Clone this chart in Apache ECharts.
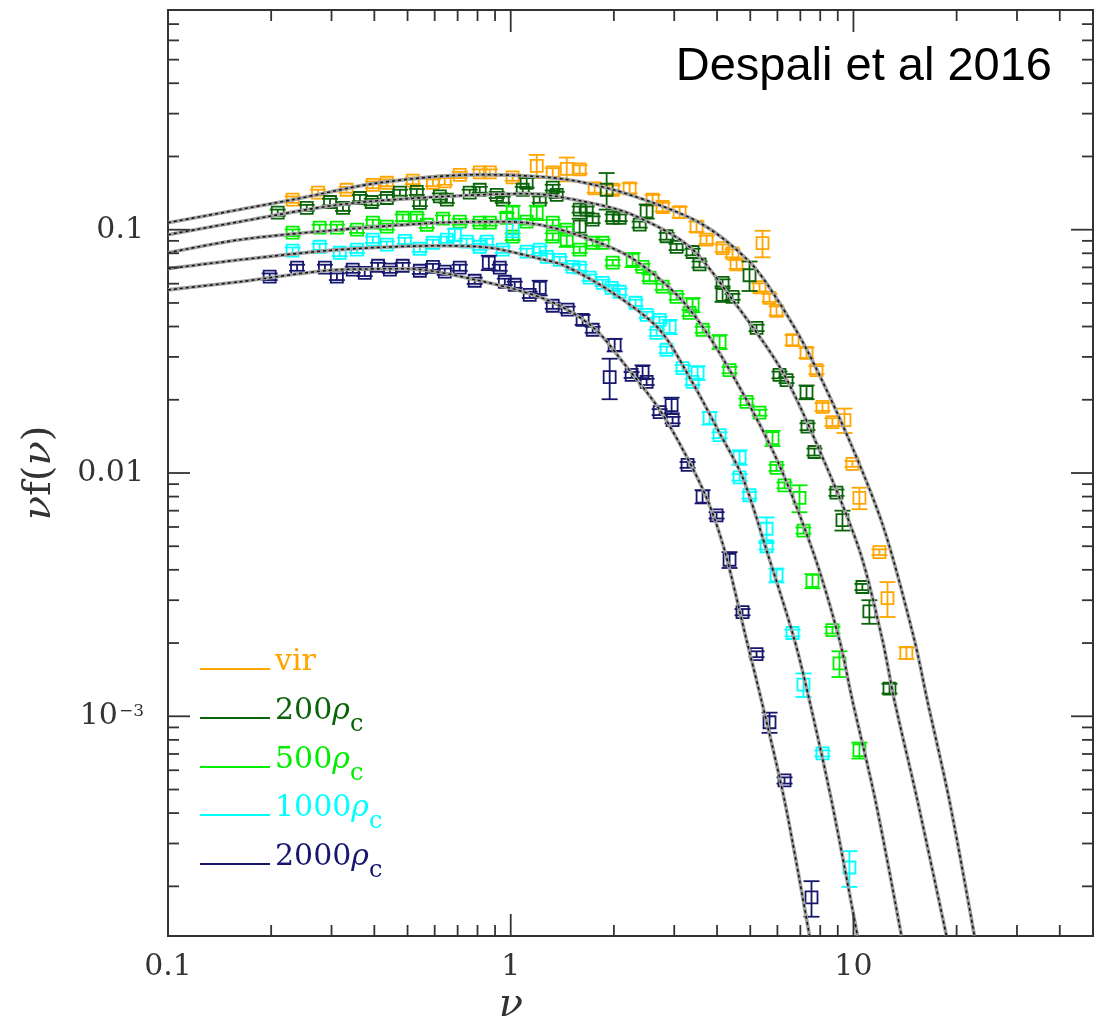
<!DOCTYPE html>
<html><head><meta charset="utf-8">
<script src="https://cdn.jsdelivr.net/npm/echarts@6/dist/echarts.min.js"></script>
<style>html,body{margin:0;padding:0;background:#fff}#c{width:1100px;height:1022px}</style>
</head><body><div id="c"></div>
<script>
// ---- data: [nu, nu f(nu), error] ----
const seriesNames = ['vir', '200ρc', '500ρc', '1000ρc', '2000ρc'];
const seriesColors = ['#FFA500', '#0a640a', '#00EE00', '#00FFFF', '#17176e'];

const virData = [[0.231,0.133,0.004],[0.274,0.142,0.004],[0.332,0.146,0.004],[0.396,0.153,0.005],[0.435,0.156,0.005],[0.518,0.159,0.005],[0.593,0.156,0.005],[0.642,0.158,0.005],[0.710,0.168,0.005],[0.812,0.172,0.005],[0.869,0.172,0.005],[1.013,0.164,0.005],[1.191,0.183,0.02],[1.326,0.172,0.007],[1.457,0.178,0.02],[1.589,0.177,0.007],[1.758,0.148,0.006],[1.984,0.146,0.006],[2.223,0.148,0.007],[2.594,0.133,0.006],[2.774,0.124,0.005],[3.110,0.118,0.006],[3.485,0.103,0.005],[3.727,0.091,0.0035],[4.151,0.084,0.003],[4.438,0.080,0.003],[4.560,0.072,0.003],[5.428,0.088,0.011],[5.320,0.058,0.0022],[5.690,0.0525,0.002],[5.965,0.0464,0.002],[6.641,0.0352,0.0017],[7.295,0.0312,0.0015],[7.801,0.0265,0.001],[8.122,0.0187,0.0007],[8.686,0.0162,0.0006],[9.415,0.0165,0.0019],[9.933,0.0109,0.0003],[10.41,0.0079,0.0008],[11.91,0.00473,0.00013],[12.57,0.00306,0.0005],[14.27,0.00182,0.0001]];

const rho200Data = [[0.209,0.1175,0.0035],[0.254,0.123,0.0035],[0.297,0.130,0.004],[0.324,0.123,0.0035],[0.363,0.135,0.004],[0.393,0.130,0.004],[0.435,0.135,0.004],[0.475,0.142,0.004],[0.532,0.143,0.004],[0.543,0.129,0.004],[0.621,0.137,0.004],[0.651,0.133,0.004],[0.759,0.142,0.004],[0.812,0.146,0.004],[0.910,0.139,0.004],[0.948,0.133,0.004],[1.084,0.146,0.004],[1.113,0.156,0.007],[1.215,0.133,0.004],[1.326,0.149,0.004],[1.362,0.139,0.004],[1.589,0.121,0.0035],[1.589,0.103,0.008],[1.666,0.121,0.0035],[1.734,0.110,0.0035],[1.905,0.146,0.025],[1.984,0.112,0.0035],[2.079,0.112,0.0035],[2.378,0.105,0.003],[2.492,0.119,0.008],[2.850,0.094,0.003],[3.048,0.085,0.0025],[3.393,0.081,0.0025],[3.556,0.072,0.002],[4.151,0.0605,0.002],[4.151,0.054,0.0035],[4.438,0.053,0.0015],[4.975,0.065,0.009],[5.215,0.0395,0.0012],[6.085,0.0253,0.0008],[6.379,0.0241,0.0007],[7.295,0.0215,0.0014],[7.344,0.0155,0.0005],[7.697,0.0122,0.0004],[8.921,0.0083,0.00025],[9.288,0.0064,0.0006],[10.62,0.0034,0.0001],[11.13,0.0027,0.0003],[12.74,0.0013,0.00006]];

const rho500Data = [[0.231,0.0972,0.003],[0.277,0.1019,0.003],[0.311,0.1019,0.003],[0.356,0.100,0.003],[0.396,0.1069,0.003],[0.435,0.1029,0.003],[0.484,0.112,0.0035],[0.532,0.112,0.0035],[0.569,0.1048,0.003],[0.634,0.111,0.0035],[0.710,0.1079,0.003],[0.812,0.1069,0.003],[0.869,0.1069,0.003],[0.973,0.112,0.005],[1.013,0.1175,0.008],[1.013,0.0936,0.003],[1.113,0.1079,0.003],[1.191,0.1175,0.008],[1.326,0.1069,0.003],[1.326,0.0936,0.003],[1.457,0.091,0.006],[1.457,0.100,0.003],[1.589,0.0828,0.0025],[1.734,0.0884,0.0025],[1.854,0.0884,0.0025],[1.984,0.0732,0.002],[2.268,0.0752,0.005],[2.425,0.0704,0.002],[2.542,0.0635,0.002],[2.774,0.0583,0.0017],[3.048,0.053,0.0015],[3.393,0.0491,0.0033],[3.325,0.0455,0.0013],[3.629,0.0388,0.0011],[4.068,0.0346,0.0023],[4.350,0.0265,0.0008],[4.875,0.0196,0.0006],[5.320,0.0177,0.0005],[5.806,0.0139,0.001],[5.965,0.0105,0.0003],[6.293,0.0089,0.00025],[6.96,0.0079,0.001],[7.148,0.0058,0.00017],[7.594,0.0036,0.00024],[8.686,0.00226,0.00007],[9.104,0.00165,0.0002],[10.41,0.000725,0.000055]];

const rho1000Data = [[0.231,0.082,0.0025],[0.277,0.0851,0.0025],[0.317,0.0804,0.0025],[0.356,0.0828,0.0025],[0.396,0.091,0.0027],[0.435,0.0868,0.0026],[0.491,0.090,0.0027],[0.543,0.0835,0.0025],[0.593,0.0884,0.0026],[0.651,0.091,0.0027],[0.687,0.0954,0.0055],[0.744,0.0893,0.0026],[0.812,0.0851,0.0025],[0.851,0.0893,0.0026],[0.948,0.0828,0.0025],[1.013,0.101,0.008],[1.113,0.0812,0.0024],[1.215,0.0828,0.0025],[1.274,0.0774,0.0023],[1.390,0.0752,0.0022],[1.516,0.0704,0.002],[1.589,0.0698,0.002],[1.700,0.0635,0.0019],[1.854,0.0605,0.0018],[1.970,0.0577,0.0017],[2.079,0.0556,0.0016],[2.314,0.0501,0.0015],[2.492,0.0447,0.0013],[2.665,0.0377,0.0011],[2.719,0.0426,0.0013],[2.908,0.0399,0.0027],[2.850,0.0321,0.001],[3.173,0.027,0.0008],[3.509,0.0258,0.0017],[3.393,0.0237,0.0007],[3.804,0.0168,0.001],[4.068,0.0143,0.0004],[4.652,0.0116,0.0008],[4.652,0.0096,0.0003],[4.975,0.0081,0.00025],[5.577,0.0059,0.00067],[5.577,0.0050,0.00015],[5.965,0.0038,0.00025],[6.641,0.0022,0.00007],[7.148,0.00135,0.00015],[8.122,0.000704,0.00002],[9.734,0.000239,0.00004]];

const rho2000Data = [[0.198,0.0641,0.002],[0.238,0.0698,0.002],[0.287,0.0698,0.002],[0.311,0.0641,0.002],[0.346,0.0685,0.002],[0.375,0.0665,0.002],[0.410,0.0711,0.002],[0.444,0.0685,0.002],[0.484,0.0711,0.002],[0.543,0.0678,0.002],[0.593,0.0704,0.002],[0.642,0.0672,0.002],[0.710,0.0698,0.002],[0.785,0.0617,0.0018],[0.863,0.0732,0.005],[0.929,0.0698,0.002],[0.961,0.0611,0.0018],[1.027,0.0594,0.0017],[1.136,0.054,0.0016],[1.215,0.0577,0.004],[1.326,0.0487,0.0014],[1.466,0.0469,0.0014],[1.621,0.0426,0.002],[1.734,0.0388,0.0011],[2.010,0.0336,0.002],[1.944,0.0248,0.0047],[2.253,0.0253,0.0007],[2.425,0.026,0.0017],[2.492,0.0237,0.0007],[2.719,0.0178,0.0005],[2.947,0.019,0.0014],[2.967,0.0165,0.0005],[3.281,0.0108,0.0003],[3.629,0.008,0.0005],[3.987,0.0067,0.0002],[4.350,0.0044,0.00033],[4.746,0.00268,0.00008],[5.215,0.0018,0.00005],[5.690,0.000945,0.00009],[6.293,0.000545,0.000016],[7.544,0.00018,0.00003]];

// ---- fitted curves: [nu, nu f(nu)] ----
const virFit = [[0.1,0.1069],[0.231,0.1329],[0.415,0.1561],[0.812,0.1684],[1.215,0.1652],[1.589,0.1576],[2.223,0.1393],[3.556,0.1069],[4.975,0.0738],[6.004,0.0515],[7.442,0.0306],[9.867,0.0130],[12.31,0.00583],[15.06,0.00206],[16.43,0.00116],[19.05,0.000451],[22.53,0.0001256]];
const rho200Fit = [[0.1,0.0954],[0.162,0.1079],[0.317,0.1268],[0.621,0.1367],[1.136,0.1406],[1.589,0.1316],[2.223,0.1164],[3.325,0.0851],[4.438,0.0515],[6.168,0.0265],[7.959,0.0124],[10.41,0.00482],[12.15,0.00206],[13.17,0.00116],[15.37,0.000451],[18.67,0.0001256]];
const rho500Fit = [[0.1,0.0804],[0.162,0.0910],[0.317,0.1],[0.621,0.1069],[0.973,0.1079],[1.215,0.1048],[1.589,0.0945],[2.223,0.0774],[3.110,0.0525],[4.014,0.0321],[5.806,0.0124],[7.594,0.00482],[9.104,0.00206],[9.933,0.00116],[11.59,0.000451],[13.80,0.0001256]];
const rho1000Fit = [[0.1,0.0691],[0.162,0.0752],[0.317,0.0828],[0.621,0.0859],[0.869,0.0843],[1.215,0.0760],[1.437,0.0711],[1.984,0.0550],[2.719,0.0388],[3.393,0.0235],[4.068,0.0146],[4.746,0.00963],[5.577,0.00482],[6.730,0.00206],[7.442,0.00116],[8.628,0.000451],[10.27,0.0001256]];
const rho2000Fit = [[0.1,0.0566],[0.162,0.0611],[0.317,0.0685],[0.498,0.0691],[0.812,0.0617],[1.274,0.0515],[1.734,0.0399],[2.179,0.0273],[2.719,0.0182],[3.237,0.0119],[3.752,0.00774],[4.207,0.00482],[4.875,0.00206],[5.392,0.00116],[6.293,0.000451],[7.442,0.0001256]];

// ---- axes ----
const xMajorTicks = [0.1, 1, 10];
const xTickLabels = ['0.1', '1', '10'];
const xMinorTicks = [0.2,0.3,0.4,0.5,0.6,0.7,0.8,0.9,2,3,4,5,6,7,8,9,20,30,40];
const yMajorTicks = [0.001, 0.01, 0.1];
const yTickLabels = ['10^−3', '0.01', '0.1'];
const yMinorTicks = [0.0002,0.0003,0.0004,0.0005,0.0006,0.0007,0.0008,0.0009,0.002,0.003,0.004,0.005,0.006,0.007,0.008,0.009,0.02,0.03,0.04,0.05,0.06,0.07,0.08,0.09,0.2,0.3,0.4,0.5,0.6,0.7];

const allData = [virData, rho200Data, rho500Data, rho1000Data, rho2000Data];
const allFits = [virFit, rho200Fit, rho500Fit, rho1000Fit, rho2000Fit];

const SERIF = '"DejaVu Serif", "Liberation Serif", serif';
const INK = '#333';

function labelFor(v, ticks, labels) {
  for (let i = 0; i < ticks.length; i++) {
    if (Math.abs(Math.log10(v) - Math.log10(ticks[i])) < 1e-6) {
      const t = labels[i];
      if (t.indexOf('^') >= 0) { const p = t.split('^'); return '{b|' + p[0] + '}{s|' + p[1] + '}'; }
      return '{b|' + t + '}';
    }
  }
  return '';
}

const tickData = [];
xMajorTicks.forEach(v => tickData.push([v, 0.01, 0, 1]));
xMinorTicks.forEach(v => tickData.push([v, 0.01, 0, 0]));
yMajorTicks.forEach(v => tickData.push([1, v, 1, 1]));
yMinorTicks.forEach(v => tickData.push([1, v, 1, 0]));

const series = [];
allData.forEach((d, i) => {
  const c = seriesColors[i];
  series.push({
    type: 'custom', name: seriesNames[i], coordinateSystem: 'cartesian2d',
    data: d, encode: { x: 0, y: 1 }, z: 3 + i * 0.01, itemStyle: { color: c },
    renderItem: function (params, api) {
      const x = api.value(0), y = api.value(1), e = api.value(2);
      const p = api.coord([x, y]);
      const lo = api.coord([x, y - e]);
      const hi = api.coord([x, y + e]);
      const s = 6, cw = 8, lw = 1.8;
      const st = { stroke: c, lineWidth: lw, fill: null };
      return { type: 'group', children: [
        { type: 'line', shape: { x1: p[0], y1: lo[1], x2: p[0], y2: hi[1] }, style: st },
        { type: 'line', shape: { x1: p[0] - cw, y1: lo[1], x2: p[0] + cw, y2: lo[1] }, style: st },
        { type: 'line', shape: { x1: p[0] - cw, y1: hi[1], x2: p[0] + cw, y2: hi[1] }, style: st },
        { type: 'rect', shape: { x: p[0] - s, y: p[1] - s, width: 2 * s, height: 2 * s }, style: { stroke: c, lineWidth: lw, fill: 'none' } }
      ]};
    }
  });
});
allFits.forEach((f, i) => {
  series.push({ type: 'line', name: 'fit-base-' + i, data: f, showSymbol: false, smooth: 0.3, clip: true, z: 6,
    lineStyle: { color: '#a0a0a0', width: 3.6 }, silent: true });
  series.push({ type: 'line', name: 'fit-dash-' + i, data: f, showSymbol: false, smooth: 0.3, clip: true, z: 7,
    lineStyle: { color: '#151515', width: 1.6, type: [3, 3] }, silent: true });
});
series.push({
  type: 'custom', name: 'ticks', coordinateSystem: 'cartesian2d', data: tickData, encode: { x: 0, y: 1 }, z: 8, silent: true,
  renderItem: function (params, api) {
    const cs = params.coordSys;
    const kind = api.value(2), major = api.value(3);
    const len = major ? 22 : 11;
    const st = { stroke: INK, lineWidth: 1.8 };
    const p = api.coord([api.value(0), api.value(1)]);
    if (kind === 0) {
      const b = cs.y + cs.height, t = cs.y;
      return { type: 'group', children: [
        { type: 'line', shape: { x1: p[0], y1: b, x2: p[0], y2: b - len }, style: st },
        { type: 'line', shape: { x1: p[0], y1: t, x2: p[0], y2: t + len }, style: st }
      ]};
    }
    const l = cs.x, r = cs.x + cs.width;
    return { type: 'group', children: [
      { type: 'line', shape: { x1: l, y1: p[1], x2: l + len, y2: p[1] }, style: st },
      { type: 'line', shape: { x1: r, y1: p[1], x2: r - len, y2: p[1] }, style: st }
    ]};
  }
});

// one legend block per entry, stacked down the lower-left corner
const legendTops = [636, 685, 734, 782, 831];
const legends = seriesNames.map((n, i) => ({
  orient: 'vertical', left: 200, top: legendTops[i], padding: 0, itemWidth: 70, itemHeight: 2,
  selectedMode: false,
  data: [{ name: n, icon: 'rect', itemStyle: { color: seriesColors[i], borderWidth: 0 }, textStyle: { color: seriesColors[i] } }],
  formatter: function (name) {
    const k = name.indexOf('ρc');
    if (k < 0) return '{n|' + name + '}{s|\u200a}';
    return '{n|' + name.slice(0, k) + '}{r|ρ}{s|c}';
  },
  textStyle: {
    fontFamily: SERIF, fontSize: 30, padding: [0, 0, 14, 0],
    rich: {
      n: { fontFamily: SERIF, fontSize: 30, lineHeight: 52 },
      r: { fontFamily: SERIF, fontSize: 30, fontStyle: 'italic', lineHeight: 52 },
      s: { fontFamily: SERIF, fontSize: 24, lineHeight: 24, padding: [28, 0, 0, 0] }
    }
  }
}));

const chart = echarts.init(document.getElementById('c'), null, { renderer: 'canvas' });
chart.setOption({
  animation: false,
  backgroundColor: '#fff',
  grid: { left: 168, right: 7, top: 10, bottom: 86, show: true, borderColor: INK, borderWidth: 2, backgroundColor: 'transparent' },
  xAxis: {
    type: 'log', logBase: 10, min: 0.1, max: 50, splitNumber: 2,
    axisLine: { show: false }, axisTick: { show: false }, splitLine: { show: false }, minorTick: { show: false },
    axisLabel: { margin: 16, showMinLabel: true, showMaxLabel: false, color: INK, fontFamily: SERIF, fontSize: 30,
      formatter: v => labelFor(v, xMajorTicks, xTickLabels), rich: { b: { fontFamily: SERIF, fontSize: 30, color: INK } } }
  },
  yAxis: {
    type: 'log', logBase: 10, min: 1.25e-4, max: 0.8, splitNumber: 3,
    axisLine: { show: false }, axisTick: { show: false }, splitLine: { show: false }, minorTick: { show: false },
    axisLabel: { margin: 24, showMinLabel: false, showMaxLabel: false, color: INK, fontFamily: SERIF, fontSize: 30,
      formatter: v => labelFor(v, yMajorTicks, yTickLabels),
      rich: { b: { fontFamily: SERIF, fontSize: 30, color: INK }, s: { fontFamily: SERIF, fontSize: 17, color: INK, padding: [0, 0, 10, 1] } } }
  },
  legend: legends,
  graphic: [
    { type: 'text', x: 1052, y: 67, style: { text: 'Despali et al 2016', align: 'right', verticalAlign: 'middle', font: '47px "Liberation Sans", Arial, sans-serif', fill: '#000' } },
    { type: 'text', x: 40, y: 473, rotation: Math.PI / 2, style: { text: '{i|ν}{n|f(}{i|ν}{n|)}', align: 'center', verticalAlign: 'middle', fill: INK,
      rich: { i: { fontFamily: SERIF, fontSize: 40, fontStyle: 'italic', fill: INK }, n: { fontFamily: SERIF, fontSize: 40, fill: INK } } } },
    { type: 'text', x: 511, y: 1006, style: { text: 'ν', align: 'center', verticalAlign: 'middle', font: 'italic 40px "DejaVu Serif"', fill: INK } }
  ],
  series: series
});
</script>
</body></html>
